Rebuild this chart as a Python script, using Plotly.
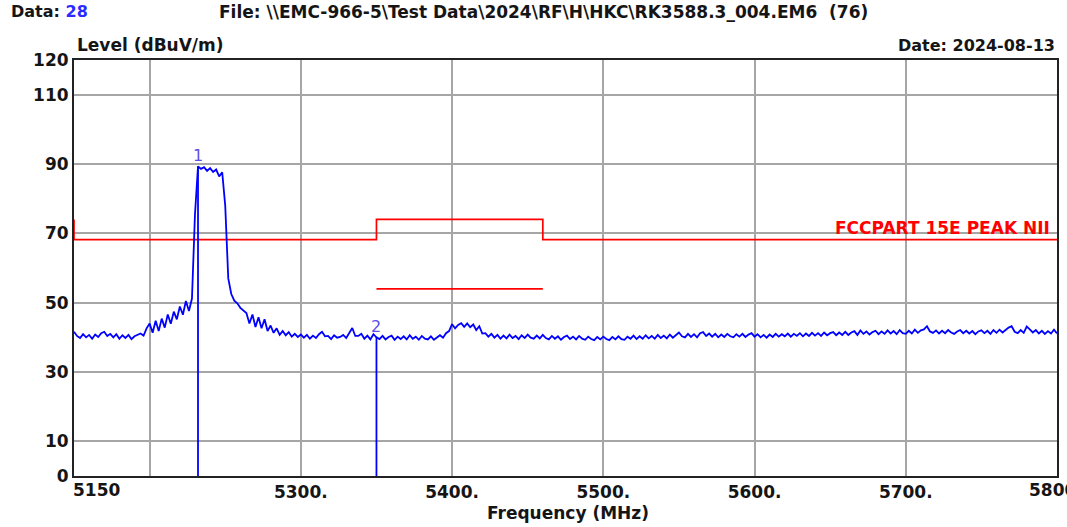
import plotly.graph_objects as go

# ---------------- data ----------------
# sweep frequency grid (MHz), 2 MHz step
freq = list(range(5150, 5802, 2))

level = [
    # 5150-5198
    41.6, 40.4, 39.8, 40.9, 40.0, 40.7, 39.6, 40.8, 40.1, 41.2, 41.6, 40.4, 41.0,
    40.0, 40.9, 39.6, 40.6, 39.8, 40.7, 39.5, 40.3, 40.6, 41.1, 40.5, 42.6,
    # 5200-5248
    44.0, 41.3, 44.8, 41.8, 45.4, 42.8, 46.6, 43.9, 47.4, 45.2, 48.9, 46.5, 50.5,
    47.6, 51.2, 75.5, 89.3, 88.6, 89.1, 88.0, 88.8, 87.7, 88.4, 86.4, 87.6,
    # 5250-5298
    78.0, 57.0, 52.5, 50.6, 49.8, 48.5, 47.6, 47.0, 44.0, 46.6, 43.0, 45.8, 42.6,
    45.2, 41.8, 43.4, 41.3, 42.6, 40.7, 41.8, 40.6, 41.5, 40.2, 41.0, 40.1,
    # 5300-5348
    40.8, 39.9, 40.7, 39.6, 40.5, 39.8, 40.9, 41.6, 40.3, 40.4, 39.5, 40.6, 39.9,
    40.1, 40.7, 39.8, 41.2, 42.7, 40.4, 40.4, 41.0, 39.6, 40.5, 39.4, 40.9,
    # 5350-5398
    40.0, 39.5, 40.4, 39.4, 40.1, 40.5, 39.3, 40.2, 39.5, 40.3, 39.4, 40.6, 39.6,
    40.2, 39.3, 40.4, 39.6, 39.4, 40.3, 39.3, 39.9, 40.6, 39.9, 41.2, 41.8,
    # 5400-5448
    43.8, 42.6, 43.6, 44.1, 43.0, 44.0, 42.9, 43.7, 42.1, 43.2, 41.1, 41.2, 40.2,
    41.0, 39.9, 40.7, 39.6, 40.5, 39.7, 40.8, 39.8, 40.4, 39.5, 40.6, 39.8,
    # 5450-5498
    40.8, 39.9, 39.6, 40.5, 39.7, 40.7, 39.8, 39.4, 40.4, 39.6, 40.3, 39.3, 40.1,
    40.5, 39.5, 40.2, 39.4, 40.4, 39.6, 39.3, 40.2, 39.5, 39.2, 40.1, 39.4,
    # 5500-5548
    40.2, 39.5, 39.2, 40.1, 39.4, 40.3, 39.5, 39.3, 40.2, 39.6, 40.5, 39.5, 40.3,
    39.6, 40.6, 39.7, 40.4, 39.6, 40.7, 39.8, 40.5, 39.7, 40.8, 39.9, 40.6,
    # 5550-5598
    41.4, 40.3, 40.0, 41.0, 40.1, 40.9, 40.0, 41.2, 41.5, 40.4, 41.1, 40.2, 41.0,
    40.0, 40.8, 40.1, 41.0, 40.3, 40.0, 40.9, 40.2, 41.0, 40.1, 40.8, 41.2,
    # 5600-5648
    40.2, 40.9, 40.0, 40.7, 39.9, 40.8, 40.1, 41.0, 40.2, 40.9, 40.3, 41.1, 40.2,
    41.0, 40.4, 41.2, 40.3, 41.1, 40.4, 41.3, 40.5, 41.2, 40.4, 41.4, 40.6,
    # 5650-5698
    41.2, 41.5, 40.6, 41.4, 40.7, 41.6, 40.7, 41.4, 41.8, 40.7, 42.0, 41.0, 41.7,
    40.8, 41.5, 41.9, 40.9, 41.7, 41.0, 42.0, 41.1, 41.8, 40.9, 42.1, 41.2,
    # 5700-5748
    41.0, 41.9, 41.1, 42.2, 41.3, 42.0, 42.3, 43.2, 41.7, 41.3, 42.0, 41.1, 41.9,
    41.2, 42.1, 41.4, 41.0, 41.7, 42.1, 41.2, 41.9, 41.1, 41.8, 40.9, 41.7,
    # 5750-5800
    42.0, 41.2, 41.9, 41.0, 42.1, 41.3, 42.2, 41.4, 42.1, 42.8, 43.2, 41.6, 41.2,
    42.1, 41.3, 43.1, 42.3, 41.4, 42.1, 41.1, 41.9, 41.0, 41.8, 41.1, 42.2, 41.1,
]

# FCC Part 15E peak limit (stepped) and average limit segment
limit_f = [5150, 5150, 5350, 5350, 5460, 5460, 5800]
limit_v = [74, 68.2, 68.2, 74, 74, 68.2, 68.2]
avg_f = [5350, 5460]
avg_v = [54, 54]
limit_name = "FCCPART 15E PEAK NII"

# markers
mk_f = [5232, 5350]
mk_v = [89.3, 40.0]
mk_lbl = ["1", "2"]

# axis ticks
x_tickvals = [5200, 5300, 5400, 5500, 5600, 5700]
x_ticktext = ["", "5300.", "5400.", "5500.", "5600.", "5700."]
x_first_label = "5150"
x_last_label = "5800."
y_tickvals = [0, 10, 30, 50, 70, 90, 110, 120]
y_ticktext = ["0", "10", "30", "50", "70", "90", "110", "120"]

# header texts
data_no = "28"
file_txt = "File: \\\\EMC-966-5\\Test Data\\2024\\RF\\H\\HKC\\RK3588.3_004.EM6&nbsp;&nbsp;(76)"
date_txt = "Date: 2024-08-13"
y_title = "Level (dBuV/m)"
x_title = "Frequency (MHz)"

# ---------------- figure ----------------
FONT = "DejaVu Sans"
TXT = "#151515"
W, H = 1067, 527
ML, MR, MT, MB = 74, 10, 60, 51
PW, PH = W - ML - MR, H - MT - MB


def px_x(p):
    return (p - ML) / PW


def px_y(p):
    return (H - MB - p) / PH


fig = go.Figure()

fig.add_trace(go.Scatter(x=limit_f, y=limit_v, mode="lines",
                         line=dict(color="#ff0000", width=1.7), hoverinfo="skip"))
fig.add_trace(go.Scatter(x=avg_f, y=avg_v, mode="lines",
                         line=dict(color="#ff0000", width=1.7), hoverinfo="skip"))
fig.add_trace(go.Scatter(x=freq, y=level, mode="lines",
                         line=dict(color="#0000ff", width=1.8)))

mx, my = [], []
for f, v in zip(mk_f, mk_v):
    mx += [f, f, None]
    my += [0, v, None]
fig.add_trace(go.Scatter(x=mx, y=my, mode="lines",
                         line=dict(color="#0000ff", width=1.8), hoverinfo="skip"))

ann = []
for f, v, t in zip(mk_f, mk_v, mk_lbl):
    ann.append(dict(x=f, y=v, xref="x", yref="y", text=t, showarrow=False,
                    xanchor="center", yanchor="bottom", yshift=-1,
                    font=dict(family=FONT, size=16, color="#5b50e8")))

ann.append(dict(x=px_x(1052), y=71.6, xref="paper", yref="y", text=limit_name,
                showarrow=False, xanchor="right", yanchor="middle",
                font=dict(family=FONT, size=17, color="#ff0000", weight="bold")))

ann.append(dict(x=px_x(9), y=px_y(12), xref="paper", yref="paper",
                text="Data: <span style='color:#2b2bff'>" + data_no + "</span>",
                showarrow=False, xanchor="left", yanchor="middle",
                font=dict(family=FONT, size=16, color=TXT, weight="bold")))
ann.append(dict(x=px_x(217), y=px_y(12), xref="paper", yref="paper", text=file_txt,
                showarrow=False, xanchor="left", yanchor="middle",
                font=dict(family=FONT, size=17, color=TXT, weight="bold")))
ann.append(dict(x=px_x(75), y=px_y(45), xref="paper", yref="paper", text=y_title,
                showarrow=False, xanchor="left", yanchor="middle",
                font=dict(family=FONT, size=17, color=TXT, weight="bold")))
ann.append(dict(x=1.0, y=px_y(45), xref="paper", yref="paper", text=date_txt,
                showarrow=False, xanchor="right", yanchor="middle",
                font=dict(family=FONT, size=16, color=TXT, weight="bold")))
ann.append(dict(x=px_x(568), y=px_y(513), xref="paper", yref="paper", text=x_title,
                showarrow=False, xanchor="center", yanchor="middle",
                font=dict(family=FONT, size=17, color=TXT, weight="bold")))
ann.append(dict(x=5150, y=px_y(490), xref="x", yref="paper", text=x_first_label,
                showarrow=False, xanchor="left", yanchor="middle", xshift=-3,
                font=dict(family=FONT, size=17, color=TXT, weight="bold")))
ann.append(dict(x=5800, y=px_y(490), xref="x", yref="paper", text=x_last_label,
                showarrow=False, xanchor="left", yanchor="middle", xshift=-30,
                font=dict(family=FONT, size=17, color=TXT, weight="bold")))

fig.update_layout(
    width=W, height=H,
    margin=dict(l=ML, r=MR, t=MT, b=MB),
    paper_bgcolor="white", plot_bgcolor="white",
    showlegend=False,
    annotations=ann,
    xaxis=dict(range=[5150, 5800], tickvals=x_tickvals, ticktext=x_ticktext,
               showgrid=True, gridcolor="#a6a6a6", gridwidth=1.5,
               showline=True, linecolor="#222222", linewidth=2, mirror=True,
               ticks="", zeroline=False, automargin=False,
               tickfont=dict(family=FONT, size=17, color=TXT, weight="bold")),
    yaxis=dict(range=[0, 120], tickvals=y_tickvals, ticktext=y_ticktext,
               showgrid=True, gridcolor="#a6a6a6", gridwidth=1.5,
               showline=True, linecolor="#222222", linewidth=2, mirror=True,
               ticks="", zeroline=False, automargin=False,
               tickfont=dict(family=FONT, size=17, color=TXT, weight="bold")),
)

fig.write_html("out.html", config={"displayModeBar": False},
               post_script="document.body.style.margin='0';"
                           "document.body.style.overflow='hidden';")
